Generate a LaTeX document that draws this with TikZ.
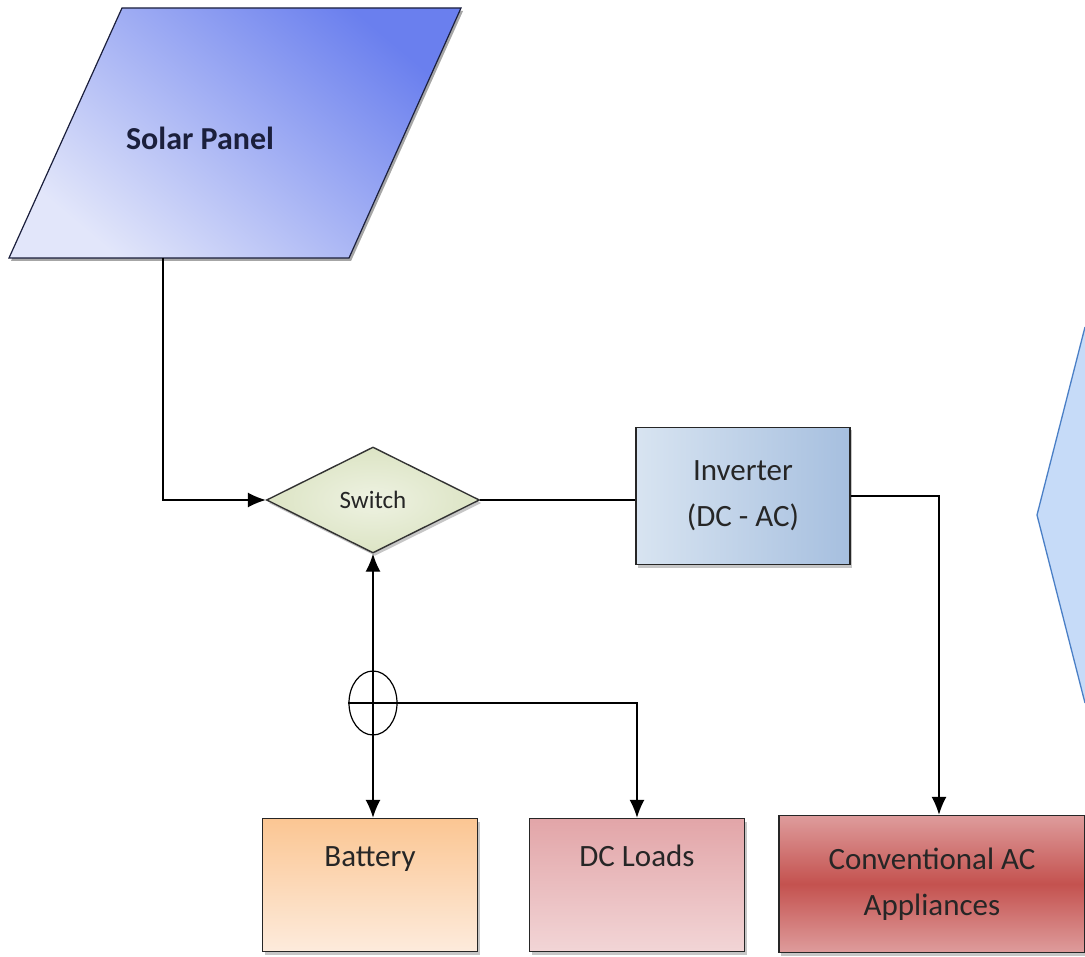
\documentclass[tikz,border=0pt]{standalone}
\usepackage{fontspec}
\setmainfont{Carlito}
\usetikzlibrary{shapes.geometric, arrows.meta, shadows}

\definecolor{panelDark}{HTML}{6A7FEE}
\definecolor{panelLight}{HTML}{E2E6FA}
\definecolor{panelEdge}{HTML}{1B1F3C}
\definecolor{switchFill}{HTML}{DCE4C4}
\definecolor{switchLight}{HTML}{EEF2E2}
\definecolor{invLight}{HTML}{D8E4F1}
\definecolor{invDark}{HTML}{A6BFDF}
\definecolor{batTop}{HTML}{FBC693}
\definecolor{batBot}{HTML}{FDEBDC}
\definecolor{dcTop}{HTML}{E2A5A8}
\definecolor{dcBot}{HTML}{F2D5D6}
\definecolor{acEdge}{HTML}{DE9C9C}
\definecolor{acMid}{HTML}{C4524F}
\definecolor{calloutFill}{HTML}{C6DBF8}
\definecolor{calloutEdge}{HTML}{4A7FC6}

\begin{document}
\begin{tikzpicture}[x=1pt, y=-1pt, >={Latex[length=18pt,width=15pt]}, line width=1.4pt,
	txt/.style={font=\fontsize{31}{46}\selectfont, text=black!85},
	shade/.style={drop shadow={opacity=0.45, shadow xshift=2pt, shadow yshift=-3pt}},
	block/.style={rectangle, draw=black!85, txt, shade, align=center, inner sep=0pt},
	loadbox/.style={block, minimum width=215pt, inner ysep=18pt, text height=30pt, text depth=67pt},
	flow/.style={draw=black, line width=1.4pt}]
	
	\useasboundingbox (0,0) rectangle (1085,957);
	
	% === SOLAR PANEL ===
	\shade[shading=axis, top color=panelDark, bottom color=panelLight, shading angle=-40, shade]
	(122,8) -- (461,8) -- (349,258) -- (9,258) -- cycle;
	\draw[panelEdge, line width=1.2pt] (122,8) -- (461,8) -- (349,258) -- (9,258) -- cycle;
	\node[font=\fontsize{32}{38}\selectfont\bfseries, text=panelEdge] (panel) at (200,138) {Solar Panel};
	\coordinate (panelout) at (163,258);
	
	% === SWITCH AND INVERTER ===
	\node[diamond, aspect=2, draw=black!80, inner sep=0pt, minimum width=213pt, minimum height=106pt,
	inner color=switchLight, outer color=switchFill, shade,
	font=\fontsize{25}{30}\selectfont, text=black!85] (switch) at (373,500) {Switch};
	\node[block, minimum width=214pt, minimum height=137pt, left color=invLight, right color=invDark]
	(inverter) at (743,496) {Inverter\\(DC - AC)};
	
	% === LOADS ===
	\node[loadbox, top color=batTop, bottom color=batBot] (battery) at (370,885) {Battery};
	\node[loadbox, top color=dcTop, bottom color=dcBot] (dcload) at (637,885) {DC Loads};
	\node[block, minimum width=306pt, minimum height=137pt, top color=acEdge, bottom color=acEdge, middle color=acMid]
	(convac) at (932,884) {Conventional AC\\Appliances};
	
	% junction
	\node[ellipse, draw=black, line width=1.2pt, minimum width=48pt, minimum height=64pt, inner sep=0pt] (junc) at (373,703) {};
	
	% === CONNECTORS ===
	\draw[flow, ->] (panelout) |- (switch.west);
	\draw[flow] (switch.east) -- (switch.east -| inverter.west);
	\draw[flow, ->] (inverter.east) -| ([xshift=7pt]convac.north);
	\draw[flow, ->] (junc.center) -- (junc.center |- switch.south);
	\draw[flow, ->] (junc.center) -- (junc.center |- battery.north);
	\draw[flow, ->] (junc.west) -| (dcload.north);
	
	% right callout, cut by the page edge
	\fill[calloutFill] (1085,327) -- (1037,515) -- (1085,703) -- cycle;
	\draw[calloutEdge, line width=1.3pt] (1085,327) -- (1037,515) -- (1085,703);
	
\end{tikzpicture}
\end{document}
